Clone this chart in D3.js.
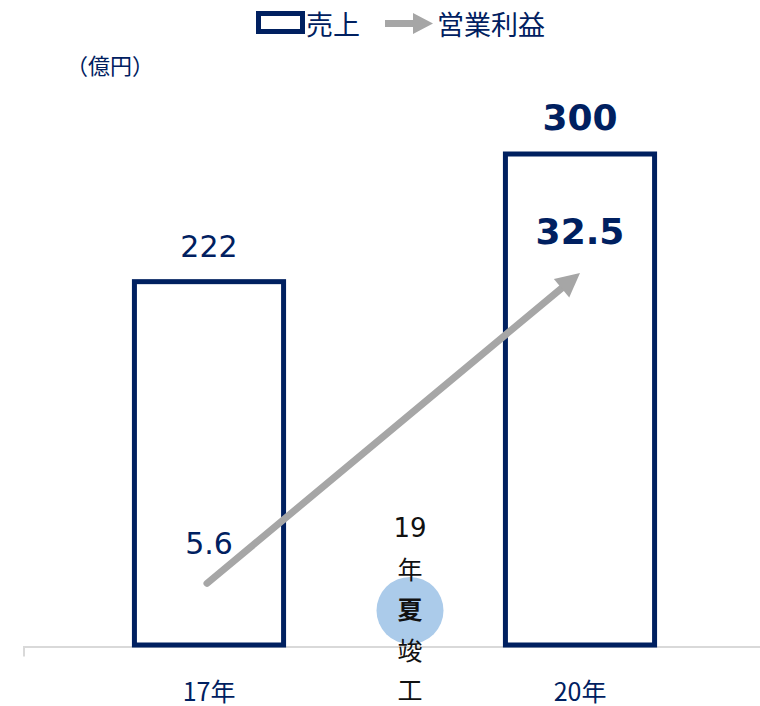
<!DOCTYPE html>
<html lang="ja">
<head>
<meta charset="utf-8">
<script src="https://cdn.jsdelivr.net/npm/d3@7"></script>
<style>
  html, body { margin: 0; padding: 0; background: #fff; }
  svg { display: block; }
</style>
</head>
<body>
<div id="chart"></div>
<script>
// 売上・営業利益の推移
const categories = ["17年", "20年"];
const sales = [222, 300];          // 売上（億円）
const profit = [5.6, 32.5];        // 営業利益（億円）
const salesBold = [false, true];
const legendLabels = ["売上", "営業利益"];
const unitLabel = "（億円）";
const noteLines = ["19", "年", "夏", "竣", "工"];
const noteBold = [false, false, true, false, false];

const W = 760, H = 706;
const NAVY = "#002060", GRAY = "#a6a6a6", AXIS = "#d9d9d9";
const NUM_FONT = "'DejaVu Sans', Verdana, sans-serif";
const JP_FONT = "'Noto Sans CJK JP', 'Noto Sans', sans-serif";

const svg = d3.select("#chart").append("svg")
  .attr("width", W).attr("height", H);

const baseY = 645;
const x = d3.scaleBand().domain(categories)
  .range([23.5, 765.5]).paddingInner(0.598).paddingOuter(0.299);
const y = d3.scaleLinear().domain([0, 300]).range([baseY, 154]);
const y2 = d3.scaleLinear().domain([0, 42.8]).range([648, 154]);
const cx = c => x(c) + x.bandwidth() / 2;

// category axis
const axis = svg.append("g")
  .attr("transform", `translate(0,${baseY + 1.5})`)
  .call(d3.axisBottom(x).tickSizeInner(0).tickSizeOuter(10));
axis.select(".domain").attr("stroke", AXIS).attr("stroke-width", 2);
axis.selectAll(".tick text")
  .attr("y", 43).attr("dy", null)
  .attr("dominant-baseline", "central")
  .attr("fill", NAVY)
  .style("font-family", JP_FONT).style("font-size", "25px");

// sales bars (outline)
svg.append("g").selectAll("rect")
  .data(categories)
  .join("rect")
  .attr("x", d => x(d))
  .attr("y", (d, i) => y(sales[i]))
  .attr("width", x.bandwidth())
  .attr("height", (d, i) => y(0) - y(sales[i]))
  .attr("fill", "#fff")
  .attr("stroke", NAVY)
  .attr("stroke-width", 5);

// sales labels
svg.append("g").selectAll("text")
  .data(categories)
  .join("text")
  .attr("x", d => cx(d))
  .attr("y", (d, i) => y(sales[i]) - 24.5)
  .attr("text-anchor", "middle")
  .attr("fill", NAVY)
  .style("font-family", NUM_FONT)
  .style("font-size", (d, i) => salesBold[i] ? "36px" : "30px")
  .style("font-weight", (d, i) => salesBold[i] ? "bold" : "normal")
  .text((d, i) => sales[i]);

// completion note between the two years
const noteX = 410;
svg.append("circle")
  .attr("cx", noteX).attr("cy", 610.5).attr("r", 33.5)
  .attr("fill", "#abcbea");
svg.append("g").selectAll("text")
  .data(noteLines)
  .join("text")
  .attr("x", noteX)
  .attr("y", (d, i) => 528 + i * 40.2)
  .attr("text-anchor", "middle")
  .attr("dominant-baseline", "central")
  .attr("fill", "#111")
  .style("font-family", (d, i) => i === 0 ? NUM_FONT : JP_FONT)
  .style("font-size", (d, i) => i === 0 ? "26px" : "25px")
  .style("font-weight", (d, i) => noteBold[i] ? "bold" : "normal")
  .text(d => d);

// operating profit arrow
const p0 = [cx(categories[0]) - 2, y2(profit[0])];
const p1 = [cx(categories[1]), y2(profit[1])];
const ang = Math.atan2(p1[1] - p0[1], p1[0] - p0[0]);
const headLen = 24, headHalf = 12;
const back = [p1[0] - headLen * Math.cos(ang), p1[1] - headLen * Math.sin(ang)];
svg.append("line")
  .attr("x1", p0[0]).attr("y1", p0[1])
  .attr("x2", back[0] + 2 * Math.cos(ang)).attr("y2", back[1] + 2 * Math.sin(ang))
  .attr("stroke", GRAY).attr("stroke-width", 7)
  .attr("stroke-linecap", "round");
svg.append("path")
  .attr("d", d3.line()([
    p1,
    [back[0] + headHalf * Math.sin(ang), back[1] - headHalf * Math.cos(ang)],
    [back[0] - headHalf * Math.sin(ang), back[1] + headHalf * Math.cos(ang)]
  ]) + "Z")
  .attr("fill", GRAY);

// profit labels
svg.append("g").selectAll("text")
  .data(categories)
  .join("text")
  .attr("x", d => cx(d))
  .attr("y", (d, i) => y2(profit[i]) - 29)
  .attr("text-anchor", "middle")
  .attr("fill", NAVY)
  .style("font-family", NUM_FONT)
  .style("font-size", (d, i) => salesBold[i] ? "36px" : "30px")
  .style("font-weight", (d, i) => salesBold[i] ? "bold" : "normal")
  .text((d, i) => profit[i]);

// unit
svg.append("text")
  .attr("x", 110).attr("y", 64)
  .attr("text-anchor", "middle")
  .attr("dominant-baseline", "central")
  .attr("fill", NAVY)
  .style("font-family", JP_FONT).style("font-size", "22px")
  .text(unitLabel);

// legend
const lg = svg.append("g");
lg.append("rect")
  .attr("x", 258.5).attr("y", 13.5).attr("width", 44).attr("height", 18)
  .attr("fill", "#fff").attr("stroke", NAVY).attr("stroke-width", 5);
lg.append("text")
  .attr("x", 306).attr("y", 23)
  .attr("dominant-baseline", "central")
  .attr("fill", NAVY)
  .style("font-family", JP_FONT).style("font-size", "27px")
  .text(legendLabels[0]);
lg.append("path")
  .attr("d", "M385,20H413V13L433,23.5L413,34V27H385Z")
  .attr("fill", GRAY);
lg.append("text")
  .attr("x", 437).attr("y", 23)
  .attr("dominant-baseline", "central")
  .attr("fill", NAVY)
  .style("font-family", JP_FONT).style("font-size", "27px")
  .text(legendLabels[1]);
</script>
</body>
</html>
